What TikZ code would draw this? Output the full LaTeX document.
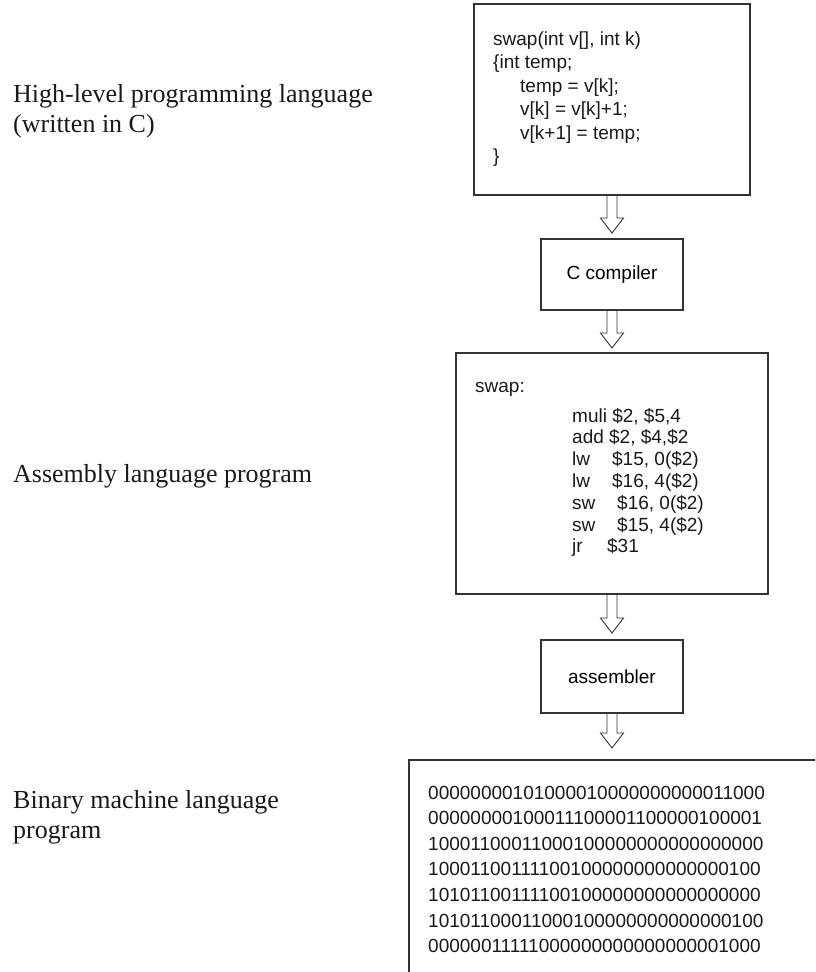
\documentclass[tikz,border=0pt]{standalone}
\usepackage{fontspec}
\setmainfont{Liberation Serif}
\newfontfamily\boxfont{Liberation Sans}
\newcommand\hollowdown[2]{%
  \draw[hollow] (#1) ++(-5,0) -- ++(0,#2) -- ++(-6.5,0) -- ++(11.5,15) -- ++(11.5,-15) -- ++(-6.5,0) -- ++(0,-#2);}
\begin{document}
\begin{tikzpicture}[x=1pt,y=-1pt,
  box/.style={draw=black!80, line width=1.1pt, inner sep=0pt, outer sep=0pt, rectangle},
  code/.style={anchor=base west, inner sep=0pt, text=black!90, font=\boxfont\fontsize{19}{23}\selectfont},
  lbl/.style={anchor=base west, inner sep=0pt, text=black!90, font=\fontsize{26}{30}\selectfont},
  hollow/.style={draw=black!80, line width=0.9pt, line join=miter}]
\useasboundingbox (0,0) rectangle (815,972);
\clip (0,0) rectangle (815,972);

% left labels
\node[lbl] (l1a) at (13,102) {High-level programming language};
\node[lbl] (l1b) at (13,132) {(written in C)};
\node[lbl] (l2) at (13,482) {Assembly language program};
\node[lbl] (l3a) at (13,808) {Binary machine language};
\node[lbl] (l3b) at (13,838) {program};

% source box
\node[box, minimum width=276pt, minimum height=191pt] (src) at (612,99.5) {};
\node[code] (s1) at (493,45) {swap(int v[], int k)};
\node[code] (s2) at (493,68.5) {\{int temp;};
\node[code] (s3) at (520,92) {temp = v[k];};
\node[code] (s4) at (520,115.5) {v[k] = v[k]+1;};
\node[code] (s5) at (520,139) {v[k+1] = temp;};
\node[code] (s6) at (493,162.5) {\}};

% compiler
\node[box, minimum width=142pt, minimum height=71pt, font=\boxfont\fontsize{19}{23}\selectfont] (cc) at (612,274.5) {C compiler};

% assembly box
\node[box, minimum width=312pt, minimum height=241pt] (asm) at (612,473.5) {};
\node[code] (a0) at (475,392) {swap:};
\node[code] (a1) at (572,422) {muli \$2, \$5,4};
\node[code] (a2) at (572,443.8) {add \$2, \$4,\$2};
\node[code] (a3) at (572,465.6) {\makebox[40pt][l]{lw}\$15, 0(\$2)};
\node[code] (a4) at (572,487.4) {\makebox[40pt][l]{lw}\$16, 4(\$2)};
\node[code] (a5) at (572,509.2) {\makebox[45pt][l]{sw}\$16, 0(\$2)};
\node[code] (a6) at (572,531) {\makebox[45pt][l]{sw}\$15, 4(\$2)};
\node[code] (a7) at (572,552.8) {\makebox[35pt][l]{jr}\$31};

% assembler
\node[box, minimum width=142pt, minimum height=73pt, font=\boxfont\fontsize{19}{23}\selectfont] (asb) at (612,676.5) {assembler};

% binary box (runs past the picture edge)
\node[box, minimum width=421pt, minimum height=230pt, anchor=north west] (bin) at (409,760) {};
\node[code] (b1) at (428,799) {00000000101000010000000000011000};
\node[code] (b2) at (428,824.6) {00000000100011100001100000100001};
\node[code] (b3) at (428,850.2) {10001100011000100000000000000000};
\node[code] (b4) at (428,875.8) {10001100111100100000000000000100};
\node[code] (b5) at (428,901.4) {10101100111100100000000000000000};
\node[code] (b6) at (428,927) {10101100011000100000000000000100};
\node[code] (b7) at (428,952.6) {00000011111000000000000000001000};

% hollow arrows
\hollowdown{src.south}{23}
\hollowdown{cc.south}{23}
\hollowdown{asm.south}{24}
\hollowdown{asb.south}{20}
\end{tikzpicture}
\end{document}
